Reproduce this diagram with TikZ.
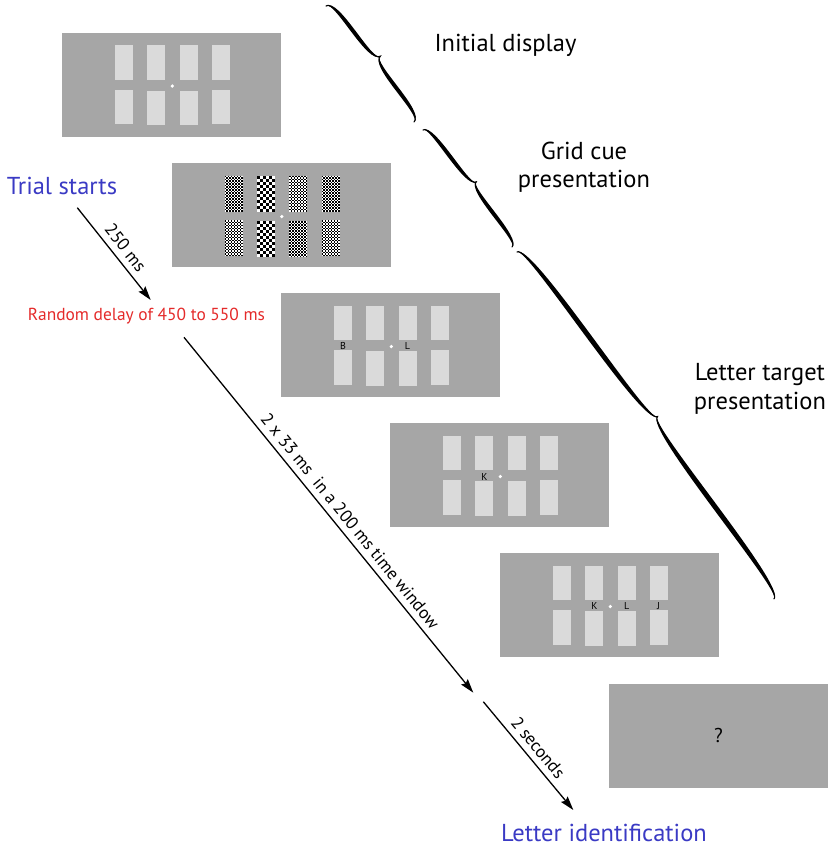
\documentclass[tikz,border=0pt]{standalone}
\usepackage{fontspec}
\setmainfont{PT Sans}
\usetikzlibrary{arrows.meta,calc}
\definecolor{panelgray}{RGB}{166,166,166}
\definecolor{rectgray}{RGB}{218,218,218}
\definecolor{tblue}{RGB}{58,58,196}
\definecolor{tred}{RGB}{228,42,42}

\newcommand\calbrace[6]{%
  \pgfmathsetmacro\cbdx{#3-#1}%
  \pgfmathsetmacro\cbdy{#2-#4}%
  \pgfmathsetmacro\cbL{veclen(\cbdx,\cbdy)}%
  \pgfmathsetmacro\cbH{\cbL/2}%
  \pgfmathsetmacro\cbang{atan2(\cbdy,\cbdx)}%
  \begin{scope}[shift={(#1,-#2)},rotate=\cbang]
    \fill[black] (0,0) .. controls (0,#5+#6) and (\cbH,#6) .. (\cbH,#5)
       .. controls (\cbH,-#6) and (0,#5-#6) .. cycle;
    \fill[black] (\cbL,0) .. controls (\cbL,#5+#6) and (\cbH,#6) .. (\cbH,#5)
       .. controls (\cbH,-#6) and (\cbL,#5-#6) .. cycle;
    \draw[line width=1.1pt, line cap=round] (0,0) .. controls (0,#5) and (\cbH,0) .. (\cbH,#5)
       .. controls (\cbH,0) and (\cbL,#5) .. (\cbL,0);
  \end{scope}}

\newcommand\lightrects{%
  \foreach \cx/\dd in {53/0,85.3/1.3,117.7/1.3,150/0}{%
    \fill[rectgray] (\cx,-12.5) rectangle ++(18,-34.5);
    \fill[rectgray] (\cx,-57-\dd) rectangle ++(18,-34.5);}
  \fill[white] (110.3,-53.5) circle (1.8);}

\newcommand\checker[4]{%
  \fill[white] (#1,#2) rectangle ++(18,-36);
  \pgfmathtruncatemacro\cknc{#4-1}%
  \pgfmathtruncatemacro\cknr{2*#4-1}%
  \foreach \i in {0,...,\cknc}{\foreach \j in {0,...,\cknr}{%
    \pgfmathtruncatemacro\ckp{mod(\i+\j,2)}%
    \ifnum\ckp=0 \fill[black] (#1+\i*#3,#2-\j*#3) rectangle ++(#3,-#3);\fi}}}

\tikzset{
  panel/.style={rectangle, fill=panelgray, minimum width=219pt, minimum height=104pt,
    inner sep=0pt, outer sep=0pt, anchor=north west},
  letter/.style={inner sep=0pt, text=black, font=\fontsize{10}{11}\selectfont},
  biglabel/.style={inner sep=0pt, font=\fontsize{24.5}{28.5}\selectfont, align=center},
  bluelabel/.style={inner sep=0pt, text=tblue, font=\fontsize{24.5}{28}\selectfont},
  redlabel/.style={inner sep=0pt, text=tred, font=\fontsize{17.4}{20}\selectfont},
  arr/.style={line width=1.3pt, -{Stealth[length=14pt,width=8.5pt,inset=2pt]}},
  rlabel/.style={sloped, above=6pt, inner sep=0pt, font=\fontsize{17.5}{20}\selectfont}
}

\begin{document}
\begin{tikzpicture}[x=1pt,y=1pt]
\useasboundingbox (0,0) rectangle (831,-847);

% panels
\node[panel] (p1) at (62,-32.5) {};
\node[panel] (p2) at (171.5,-163) {};
\node[panel] (p3) at (281,-293) {};
\node[panel] (p4) at (390,-423) {};
\node[panel] (p5) at (500,-553) {};
\node[panel, font=\fontsize{20}{24}\selectfont] (p6) at (609,-683.5) {?};

\begin{scope}[shift={(p1.north west)}] \lightrects \end{scope}
\begin{scope}[shift={(p3.north west)}] \lightrects \end{scope}
\begin{scope}[shift={(p4.north west)}] \lightrects \end{scope}
\begin{scope}[shift={(p5.north west)}] \lightrects \end{scope}

\begin{scope}[shift={(p2.north west)}]
  \checker{53}{-12.5}{1.5}{12}
  \checker{85.3}{-12.5}{3}{6}
  \checker{117.7}{-12.5}{1.5}{12}
  \checker{150}{-12.5}{1.5}{12}
  \checker{53}{-57}{1.5}{12}
  \checker{85.3}{-58.3}{3}{6}
  \checker{117.7}{-58.3}{1.5}{12}
  \checker{150}{-57}{1.5}{12}
  \fill[white] (110.3,-53.5) circle (1.8);
\end{scope}

% letters
\node[letter] (lb) at ($(p3.north west)+(62,-53)$) {B};
\node[letter] (ll) at ($(p3.north west)+(126.5,-53)$) {L};
\node[letter] (lk) at ($(p4.north west)+(94.3,-53.5)$) {K};
\node[letter] (lk2) at ($(p5.north west)+(94.3,-53)$) {K};
\node[letter] (ll2) at ($(p5.north west)+(126.7,-53)$) {L};
\node[letter] (lj) at ($(p5.north west)+(158.5,-53)$) {J};

% braces
\calbrace{326}{6}{414}{122}{13}{2.6}
\calbrace{423}{130}{512}{247}{11}{2.6}
\calbrace{517}{252}{774}{599}{15}{3.3}

% labels
\node[biglabel, anchor=base] (init) at (505.5,-51.5) {Initial display};
\node[biglabel] (grid) at (584,-167) {Grid cue\\presentation};
\node[biglabel] (targ) at (760,-389) {Letter target\\presentation};
\node[bluelabel, anchor=base] (start) at (62,-194.3) {Trial starts};
\node[redlabel, anchor=base] (delay) at (146.5,-320) {Random delay of 450 to 550 ms};
\node[bluelabel, anchor=base] (ident) at (604,-841) {Letter identification};

% arrows
\coordinate (a1s) at (77.3,-207.7);
\coordinate (a1e) at (150.7,-300);
\coordinate (a2s) at (184,-337.3);
\coordinate (a2e) at (473.3,-692.7);
\coordinate (a3s) at (483.3,-701.7);
\coordinate (a3e) at (573.3,-810);
\draw[arr] (a1s) -- node[rlabel, pos=0.52] {250 ms} (a1e);
\draw[arr] (a2s) -- node[rlabel, pos=0.54] {2 x 33 ms~ in a 200 ms time window} (a2e);
\draw[arr] (a3s) -- node[rlabel, pos=0.5] {2 seconds} (a3e);
\end{tikzpicture}
\end{document}
